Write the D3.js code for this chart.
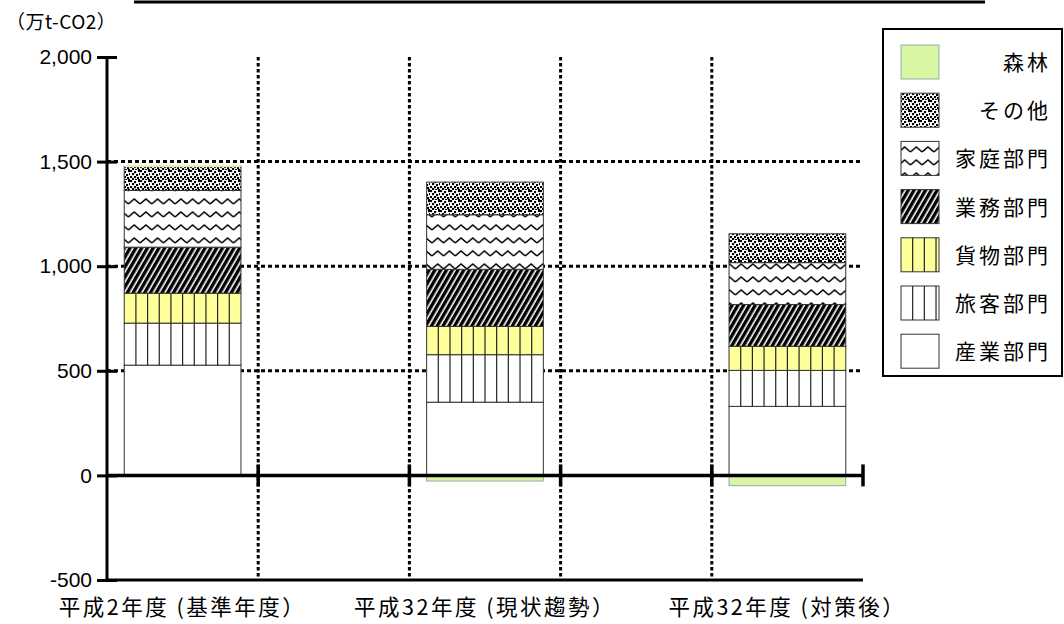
<!DOCTYPE html>
<html>
<head>
<meta charset="utf-8">
<script src="https://cdn.jsdelivr.net/npm/d3@7"></script>
<style>
  html, body { margin: 0; padding: 0; background: #fff; }
  svg { display: block; }
</style>
</head>
<body>
<svg id="chart" width="1064" height="624"></svg>
<script>
// Emission scenarios (unit: 万t-CO2)
const categories = ["平成2年度 (基準年度）", "平成32年度 (現状趨勢）", "平成32年度 (対策後）"];
const sectors = ["産業部門", "旅客部門", "貨物部門", "業務部門", "家庭部門", "その他", "森林"];
const industry  = [527, 350, 330];
const passenger = [201, 227, 172];
const freight   = [143, 135, 115];
const business  = [220, 273, 200];
const household = [271, 261, 200];
const other     = [115, 156, 138];
const forest    = [0, -27, -49];
const yTicks = [-500, 0, 500, 1000, 1500, 2000];
const unitLabel = "（万t-CO2）";

const seriesValues = [industry, passenger, freight, business, household, other, forest];
const rows = categories.map((c, i) => {
  const r = { category: c, slot: i * 2 };
  sectors.forEach((s, k) => r[s] = seriesValues[k][i]);
  return r;
});

const svg = d3.select("#chart");
const plot = { left: 107, right: 863, top: 57, bottom: 580 };

// Five equal slots; bars occupy slots 0, 2, 4
const x = d3.scaleBand().domain(d3.range(5)).range([plot.left, plot.right]).padding(0);
const barW = x.bandwidth() * 0.772;
const y = d3.scaleLinear().domain([-500, 2000]).range([plot.bottom, plot.top]);

const defs = svg.append("defs");

// Diagonal hatch for 業務部門
const diag = defs.append("pattern").attr("id", "p-diag")
  .attr("patternUnits", "userSpaceOnUse").attr("width", 5).attr("height", 5)
  .attr("patternTransform", "rotate(30)");
diag.append("rect").attr("width", 5).attr("height", 5).attr("fill", "#fff");
diag.append("rect").attr("width", 3.4).attr("height", 5).attr("fill", "#000");

// Zigzag for 家庭部門
const zz = defs.append("pattern").attr("id", "p-zigzag")
  .attr("patternUnits", "userSpaceOnUse").attr("width", barW / 10).attr("height", 13);
zz.append("rect").attr("width", barW / 10).attr("height", 13).attr("fill", "#fff");
zz.append("path")
  .attr("d", `M0,9 L${barW / 20},4 L${barW / 10},9`)
  .attr("fill", "none").attr("stroke", "#000").attr("stroke-width", 1.6);

// Confetti dots for その他
const dots = defs.append("pattern").attr("id", "p-dots")
  .attr("patternUnits", "userSpaceOnUse").attr("width", 10).attr("height", 10);
dots.append("rect").attr("width", 10).attr("height", 10).attr("fill", "#fff");
[[0,0],[4,1],[8,0],[2,3],[6,4],[9,3],[0,6],[4,6],[7,7],[2,8],[5,9],[8,9]]
  .forEach(([dx, dy]) => dots.append("rect").attr("x", dx).attr("y", dy)
    .attr("width", 2.1).attr("height", 2.1).attr("fill", "#000"));

const style = {
  "産業部門": { fill: "#fff" },
  "旅客部門": { fill: "#fff", vlines: true },
  "貨物部門": { fill: "#ffff99", vlines: true },
  "業務部門": { fill: "url(#p-diag)" },
  "家庭部門": { fill: "url(#p-zigzag)" },
  "その他":   { fill: "url(#p-dots)" },
  "森林":     { fill: "#d8f5a2", stroke: "#9aa" }
};

// Paint a rectangle in a sector's style, with vertical rules where needed
function paint(g, sector, rx, ry, rw, rh) {
  const st = style[sector];
  g.append("rect").attr("x", rx).attr("y", ry).attr("width", rw).attr("height", rh)
    .attr("fill", st.fill).attr("stroke", st.stroke || "#333").attr("stroke-width", 1);
  if (st.vlines) {
    const step = barW / 10;
    for (let k = 1; k * step < rw - 1; k++) {
      g.append("line").attr("x1", rx + k * step).attr("x2", rx + k * step)
        .attr("y1", ry).attr("y2", ry + rh).attr("stroke", "#222").attr("stroke-width", 1.2);
    }
  }
}

// Grid lines (dotted)
const grid = svg.append("g");
[500, 1000, 1500].forEach(v => grid.append("line")
  .attr("x1", plot.left).attr("x2", plot.right).attr("y1", y(v)).attr("y2", y(v))
  .attr("stroke", "#000").attr("stroke-width", 3).attr("stroke-dasharray", "4,3"));
d3.range(1, 5).forEach(i => grid.append("line")
  .attr("x1", x(i)).attr("x2", x(i)).attr("y1", plot.top).attr("y2", plot.bottom)
  .attr("stroke", "#000").attr("stroke-width", 3).attr("stroke-dasharray", "3.5,2.5"));

// Stacked bars
const stack = d3.stack().keys(sectors).offset(d3.stackOffsetDiverging)(rows);
const bars = svg.append("g");
stack.forEach(layer => {
  layer.forEach((d, i) => {
    const r = rows[i];
    const bx = x(r.slot) + (x.bandwidth() - barW) / 2;
    if (d[1] - d[0] === 0) {
      // zero-valued layer shows as a thin edge on top of the positive stack
      const top = d3.sum(sectors, s => Math.max(0, r[s]));
      bars.append("line").attr("x1", bx).attr("x2", bx + barW)
        .attr("y1", y(top)).attr("y2", y(top))
        .attr("stroke", style[layer.key].fill).attr("stroke-width", 1.5);
      return;
    }
    paint(bars, layer.key, bx, y(d[1]), barW, y(d[0]) - y(d[1]));
  });
});

// Y axis with crossing ticks
const fmt = d3.format(",");
const yAxis = svg.append("g").attr("transform", `translate(${plot.left},0)`)
  .call(d3.axisLeft(y).tickValues(yTicks).tickFormat(v => fmt(v).replace("−", "-"))
    .tickSize(10).tickPadding(5));
yAxis.select(".domain").remove();
yAxis.append("line").attr("x1", 0).attr("x2", 0).attr("y1", plot.top).attr("y2", plot.bottom)
  .attr("stroke", "#000").attr("stroke-width", 3);
yAxis.selectAll(".tick line").attr("x1", -10).attr("x2", 10).attr("stroke-width", 3);
yAxis.selectAll(".tick text")
  .attr("font-family", "Liberation Sans, Arial, sans-serif")
  .attr("font-size", 21).attr("fill", "#000");

// Zero line with crossing ticks at slot boundaries
const xAxis = svg.append("g").attr("transform", `translate(0,${y(0)})`);
xAxis.append("line").attr("x1", plot.left).attr("x2", plot.right)
  .attr("stroke", "#000").attr("stroke-width", 3.5);
d3.range(1, 6).forEach(i => {
  const tx = i < 5 ? x(i) : plot.right;
  xAxis.append("line").attr("x1", tx).attr("x2", tx).attr("y1", -11).attr("y2", 11)
    .attr("stroke", "#000").attr("stroke-width", 3.5);
});
// bottom edge of the plot
svg.append("line").attr("x1", plot.left).attr("x2", plot.right)
  .attr("y1", plot.bottom).attr("y2", plot.bottom).attr("stroke", "#000").attr("stroke-width", 3);

// Category labels
svg.append("g").selectAll("text").data(rows).join("text")
  .attr("x", d => x(d.slot) + x.bandwidth() / 2).attr("y", 615)
  .attr("text-anchor", "middle")
  .attr("font-family", "Noto Sans CJK JP, sans-serif").attr("font-size", 21.5)
  .attr("letter-spacing", 2.5)
  .attr("fill", "#000").text(d => d.category);

// Unit label
svg.append("text").attr("x", 6).attr("y", 29)
  .attr("font-family", "Noto Sans CJK JP, sans-serif").attr("font-size", 19)
  .attr("letter-spacing", 0.5)
  .attr("fill", "#000").text(unitLabel);

// Top rule
svg.append("line").attr("x1", 134).attr("x2", 985).attr("y1", 2).attr("y2", 2)
  .attr("stroke", "#000").attr("stroke-width", 3);

// Legend
const lg = svg.append("g");
lg.append("rect").attr("x", 883).attr("y", 29).attr("width", 179).attr("height", 347)
  .attr("fill", "#fff").attr("stroke", "#000").attr("stroke-width", 2);
sectors.slice().reverse().forEach((s, i) => {
  const cy = 62 + i * 48.2;
  paint(lg, s, 901, cy - 17, 38, 34);
  lg.append("text").attr("x", 1051).attr("y", cy + 8).attr("text-anchor", "end")
    .attr("font-family", "Noto Sans CJK JP, sans-serif").attr("font-size", 21)
    .attr("letter-spacing", 3).attr("fill", "#000").text(s);
});
</script>
</body>
</html>
